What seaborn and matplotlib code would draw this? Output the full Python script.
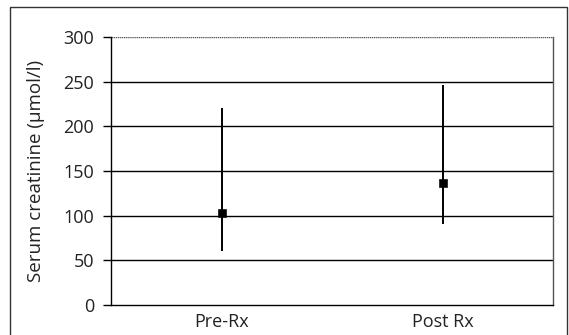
import pandas as pd
import numpy as np
import matplotlib
matplotlib.use('Agg')
import matplotlib.pyplot as plt
import seaborn as sns
from matplotlib.patches import Rectangle

groups = ['Pre-Rx', 'Post Rx']
means = [103, 137]
lows = [60, 91]
highs = [220, 246]
y_ticks = [0, 50, 100, 150, 200, 250, 300]

df = pd.DataFrame({'group': groups, 'mean': means, 'low': lows, 'high': highs})

sns.set_style('white')
plt.rcParams['font.family'] = ['Open Sans', 'DejaVu Sans']

fig = plt.figure(figsize=(5.69, 3.35), dpi=100)
ax = fig.add_axes([111 / 569, 1 - 305 / 335, 442 / 569, 268 / 335])

# outer chart frame
fig.patches.append(Rectangle((10 / 569, -0.1), 557 / 569, 1.1 - 7 / 335,
                             transform=fig.transFigure, fill=False,
                             edgecolor='#333333', linewidth=1))

# horizontal gridlines
for v in y_ticks[1:-1]:
    ax.axhline(v, color='black', linewidth=1, zorder=1)
ax.axhline(300, color='#555555', linewidth=1, linestyle=(0, (1, 0.5)), zorder=1)

# whiskers (range) and mean markers
ax.vlines(x=np.arange(len(groups)), ymin=df['low'], ymax=df['high'],
          color='black', linewidth=1.4, zorder=2)
sns.scatterplot(data=df, x='group', y='mean', marker='s', color='black',
                s=30, edgecolor='black', ax=ax, zorder=3)

ax.set_xlim(-0.5, 1.5)
ax.set_ylim(0, 300)
ax.set_yticks(y_ticks)
ax.set_yticklabels([str(v) for v in y_ticks], fontsize=13, color='#222222')
ax.set_xticks(range(len(groups)))
ax.set_xticklabels(groups, fontsize=13, color='#222222')
ax.set_xticks([-0.5, 0.5, 1.5], minor=True)
ax.tick_params(axis='x', which='major', length=0, pad=6)
ax.tick_params(axis='x', which='minor', length=6, width=1, color='black', direction='out')
ax.tick_params(axis='y', length=6, width=1, color='black', direction='out', pad=6, left=True)
ax.set_xlabel('')
ax.set_ylabel('Serum creatinine (µmol/l)', fontsize=13.5, color='#222222')
ax.yaxis.set_label_coords(-0.149, 0.5)

for side in ['left', 'bottom']:
    ax.spines[side].set_color('black')
    ax.spines[side].set_linewidth(1)
ax.spines['right'].set_color('#555555')
ax.spines['right'].set_linewidth(1)
ax.spines['top'].set_visible(False)

fig.savefig('out.png', dpi=100)
